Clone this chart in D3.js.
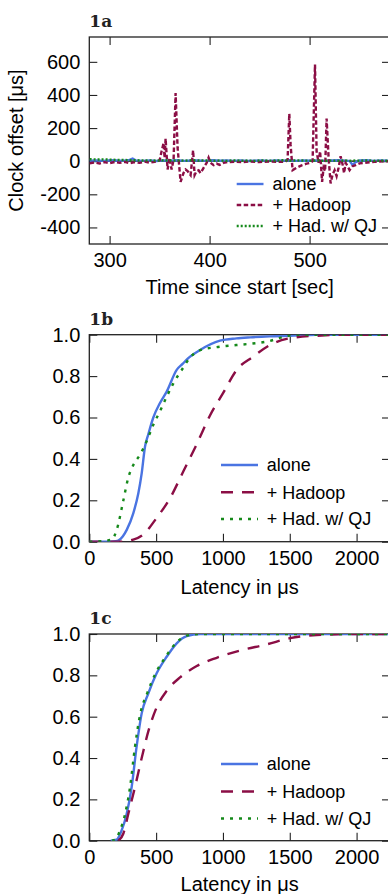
<!DOCTYPE html>
<html>
<head>
<meta charset="utf-8">
<script src="https://cdn.jsdelivr.net/npm/d3@7"></script>
<style>
  html, body { margin: 0; padding: 0; background: #fff; }
  svg { display: block; }
  text { font-family: "Liberation Sans", Arial, Helvetica, sans-serif; fill: #000; }
  .panel-title { font-family: "DejaVu Serif", serif; font-weight: bold; font-size: 17px; fill: #222; }
</style>
</head>
<body>
<svg id="chart" width="388" height="894"></svg>
<script>
// ---- 1a: clock offset over time (µs) ----
const offsetTimes = [280, 287, 294, 301, 308, 315, 320, 323, 326, 333,
  340, 347, 354, 361, 368, 375, 382, 389, 396, 403,
  410, 417, 424, 431, 438, 445, 452, 459, 466, 473,
  480, 487, 494, 501, 508, 515, 522, 529, 536, 540,
  543, 546, 550, 557, 564, 571, 578, 581];
const offsetAlone = [3, 5, 2, 6, 4, 3, 8, 16, 5, 2,
  4, 1, 5, 3, 6, 2, 4, 5, 2, 6,
  3, 4, 2, 5, 1, 3, 4, 2, 5, 3,
  6, 2, 4, 3, 5, 2, 4, 6, 3, 2,
  -24, -5, 4, 6, 2, 5, 3, 4];
const offsetQJ = [12, 10, 11, 9, 8, 7, 6, 5, 6, 4,
  5, 3, 6, 4, 5, 3, 6, 4, 5, 3,
  4, 2, 5, 3, 4, 2, 5, 3, 4, 6,
  3, 5, 4, 3, 5, 2, 4, 3, 5, 2,
  3, 4, 3, 5, 2, 4, 3, 4];
const hadoopTimes = [280, 285, 290, 295, 300, 305, 310, 315, 320, 325,
  330, 335, 340, 345, 350, 352, 354, 355, 356, 357,
  358, 360, 362, 364, 366, 368, 371, 374, 376, 378,
  381, 383.5, 385, 387, 389, 391, 394, 397, 399, 401,
  404, 407, 410, 414, 418, 425, 432, 440, 450, 460,
  470, 476, 478, 479.7, 481, 483, 487, 492, 497, 501,
  503, 505.4, 507, 509, 510.5, 512.5, 514, 515.5, 517, 519,
  521, 523, 525, 527, 529, 531, 533, 534.5, 536, 538,
  540, 543, 546, 550, 555, 560, 565, 570, 575, 581];
const offsetHadoop = [-12, -8, -14, -6, -12, -5, -10, -4, -12, -6,
  -10, -3, -9, -4, 5, 60, 110, 20, 137, 40,
  -50, 20, -50, 10, 411, 80, -125, -70, -50, -60,
  -84, 66, -84, -60, -55, -72, -40, -10, 22, -10,
  -24, -15, -22, -10, -5, -3, -6, -2, -5, -2,
  -4, -3, 10, 287, 100, -54, -40, -25, -15, -10,
  0, 584, 60, -10, 60, -125, -40, -60, 257, 20,
  -134, -80, -54, -90, -40, 30, -20, -72, -10, -30,
  -54, -30, -24, -13, -10, -6, -4, -2, 0, 0];
const offsetXTicks = [300, 400, 500];
const offsetYTicks = [-400, -200, 0, 200, 400, 600];

// ---- 1b: latency CDF ----
const b_aloneLat = [0, 150, 200, 217, 250, 280, 329, 367, 392, 417, 442, 479, 529, 579, 654, 700, 729, 829, 978, 1100, 1203, 1350, 1500, 1700, 2250];
const b_aloneCdf = [0, 0, 0.002, 0.005, 0.025, 0.057, 0.137, 0.234, 0.33, 0.46, 0.52, 0.60, 0.67, 0.725, 0.83, 0.86, 0.88, 0.926, 0.971, 0.982, 0.987, 0.992, 0.995, 1, 1];
const b_hadoopLat = [0, 230, 329, 404, 504, 604, 704, 803, 903, 1003, 1103, 1228, 1352, 1477, 1700, 2000, 2250];
const b_hadoopCdf = [0, 0, 0.01, 0.035, 0.115, 0.21, 0.34, 0.47, 0.61, 0.72, 0.83, 0.895, 0.95, 0.98, 0.995, 1, 1];
const b_qjLat = [0, 100, 167, 205, 255, 292, 329, 379, 429, 479, 529, 579, 629, 692, 754, 829, 953, 1100, 1203, 1350, 1452, 1550, 2250];
const b_qjCdf = [0, 0.003, 0.01, 0.057, 0.20, 0.31, 0.37, 0.42, 0.485, 0.565, 0.63, 0.70, 0.765, 0.83, 0.89, 0.925, 0.94, 0.95, 0.956, 0.97, 0.989, 1, 1];

// ---- 1c: latency CDF ----
const c_aloneLat = [160, 205, 242, 280, 317, 354, 392, 442, 504, 579, 654, 729, 829, 2250];
const c_aloneCdf = [0, 0.005, 0.05, 0.13, 0.26, 0.455, 0.616, 0.713, 0.81, 0.89, 0.955, 0.99, 1, 1];
const c_hadoopLat = [217, 255, 292, 342, 392, 442, 504, 579, 679, 804, 953, 1128, 1328, 1502, 1702, 2000, 2250];
const c_hadoopCdf = [0, 0.035, 0.13, 0.26, 0.40, 0.53, 0.645, 0.725, 0.79, 0.845, 0.885, 0.92, 0.95, 0.98, 0.995, 1, 1];
const c_qjLat = [170, 195, 230, 268, 305, 342, 382, 433, 496, 572, 646, 722, 820, 2250];
const c_qjCdf = [0, 0.005, 0.05, 0.13, 0.26, 0.455, 0.616, 0.713, 0.81, 0.89, 0.955, 0.99, 1, 1];

const latXTicks = [0, 500, 1000, 1500, 2000];
const cdfYTicks = [0, 0.2, 0.4, 0.6, 0.8, 1.0];

const legendLabels = ["alone", "+ Hadoop", "+ Had. w/ QJ"];
const colors = ["#4a74e2", "#8b0e45", "#15891a"];

// ---- layout ----
const svg = d3.select("#chart");
const left = 89.3, right = 390;
const plainInt = (d) => String(d);   // hyphen minus, no thousands comma

function drawPanel(p) {
  const g = svg.append("g");
  const x = d3.scaleLinear().domain(p.xDomain).range([left, right]);
  const y = d3.scaleLinear().domain(p.yDomain).range([p.bottom, p.top]);

  const clipId = "clip-" + p.name;
  svg.append("clipPath").attr("id", clipId)
    .append("rect")
    .attr("x", left).attr("y", p.top)
    .attr("width", right - left).attr("height", p.bottom - p.top);

  // axes, ticks pointing inward
  g.append("g").attr("transform", "translate(0," + p.bottom + ")")
    .call(d3.axisBottom(x).tickValues(p.xTicks).tickSize(-8).tickPadding(9).tickSizeOuter(0)
      .tickFormat(plainInt));
  g.append("g").attr("transform", "translate(0," + p.top + ")")
    .call(d3.axisTop(x).tickValues(p.xTicks).tickSize(-8).tickFormat("").tickSizeOuter(0));
  g.append("g").attr("transform", "translate(" + left + ",0)")
    .call(d3.axisLeft(y).tickValues(p.yTicks).tickSize(-8).tickPadding(9).tickSizeOuter(0)
      .tickFormat(p.yFormat));
  g.append("g").attr("transform", "translate(" + right + ",0)")
    .call(d3.axisRight(y).tickValues(p.yTicks).tickSize(-8).tickFormat("").tickSizeOuter(0));
  g.selectAll(".domain").remove();
  g.selectAll(".tick line").attr("stroke", "#222").attr("stroke-width", 1.1);
  g.selectAll(".tick text").style("font-size", "20px").attr("fill", "#000");

  // frame
  g.append("rect")
    .attr("x", left).attr("y", p.top)
    .attr("width", right - left).attr("height", p.bottom - p.top)
    .attr("fill", "none").attr("stroke", "#222").attr("stroke-width", 1.3);

  if (p.zeroLine) {
    g.append("line")
      .attr("x1", left).attr("x2", right)
      .attr("y1", y(0)).attr("y2", y(0))
      .attr("stroke", "#000").attr("stroke-width", 1.2);
  }

  // series
  const plot = g.append("g").attr("clip-path", "url(#" + clipId + ")");
  p.series.forEach((s, i) => {
    const line = d3.line()
      .x((d) => x(d[0]))
      .y((d) => y(d[1]))
      .curve(p.curve);
    plot.append("path")
      .datum(d3.zip(s.xs, s.ys))
      .attr("d", line)
      .attr("fill", "none")
      .attr("stroke", colors[i])
      .attr("stroke-width", p.lineWidth)
      .attr("stroke-dasharray", p.dashes[i]);
  });

  // legend
  const lg = g.append("g");
  legendLabels.forEach((label, i) => {
    const ly = p.top + p.legendRows[i];
    lg.append("line")
      .attr("x1", p.legendX[0]).attr("x2", p.legendX[1])
      .attr("y1", ly).attr("y2", ly)
      .attr("stroke", colors[i])
      .attr("stroke-width", p.lineWidth)
      .attr("stroke-dasharray", p.dashes[i]);
    lg.append("text")
      .attr("x", p.legendX[2]).attr("y", ly)
      .attr("dy", "0.36em")
      .style("font-size", "18px")
      .text(label);
  });

  // titles
  g.append("text").attr("class", "panel-title")
    .attr("x", left).attr("y", p.titleY).text(p.name);
  g.append("text")
    .attr("x", (left + right) / 2).attr("y", p.xLabelY)
    .attr("text-anchor", "middle")
    .style("font-size", "20px")
    .text(p.xLabel);
  if (p.yLabel) {
    g.append("text")
      .attr("transform", "translate(23," + (p.top + p.bottom) / 2 + ") rotate(-90)")
      .attr("text-anchor", "middle")
      .style("font-size", "20px")
      .text(p.yLabel);
  }
}

drawPanel({
  name: "1a", top: 37, bottom: 244, titleY: 27, xLabelY: 294,
  xDomain: [279.7, 580.4], yDomain: [-500, 750],
  xTicks: offsetXTicks, yTicks: offsetYTicks, yFormat: plainInt,
  xLabel: "Time since start [sec]", yLabel: "Clock offset [\u03bcs]",
  zeroLine: true, curve: d3.curveLinear, lineWidth: 2.4,
  dashes: [null, "4.5,2.5", "2,2"],
  legendRows: [147, 168, 189], legendX: [236.7, 263.5, 272.5],
  series: [
    { xs: offsetTimes, ys: offsetAlone },
    { xs: hadoopTimes, ys: offsetHadoop },
    { xs: offsetTimes, ys: offsetQJ }
  ]
});

drawPanel({
  name: "1b", top: 334.7, bottom: 541.7, titleY: 325, xLabelY: 594,
  xDomain: [0, 2250], yDomain: [0, 1],
  xTicks: latXTicks, yTicks: cdfYTicks, yFormat: d3.format(".1f"),
  xLabel: "Latency in \u03bcs", yLabel: null,
  zeroLine: false, curve: d3.curveMonotoneX, lineWidth: 2.4,
  dashes: [null, "12,9", "3,6"],
  legendRows: [130.3, 157.6, 184.3], legendX: [221, 258, 266.7],
  series: [
    { xs: b_aloneLat, ys: b_aloneCdf },
    { xs: b_hadoopLat, ys: b_hadoopCdf },
    { xs: b_qjLat, ys: b_qjCdf }
  ]
});

drawPanel({
  name: "1c", top: 634, bottom: 840.7, titleY: 624, xLabelY: 891,
  xDomain: [0, 2250], yDomain: [0, 1],
  xTicks: latXTicks, yTicks: cdfYTicks, yFormat: d3.format(".1f"),
  xLabel: "Latency in \u03bcs", yLabel: null,
  zeroLine: false, curve: d3.curveMonotoneX, lineWidth: 2.4,
  dashes: [null, "12,9", "3,6"],
  legendRows: [130, 157.5, 184.5], legendX: [221, 258, 266.7],
  series: [
    { xs: c_aloneLat, ys: c_aloneCdf },
    { xs: c_hadoopLat, ys: c_hadoopCdf },
    { xs: c_qjLat, ys: c_qjCdf }
  ]
});
</script>
</body>
</html>
